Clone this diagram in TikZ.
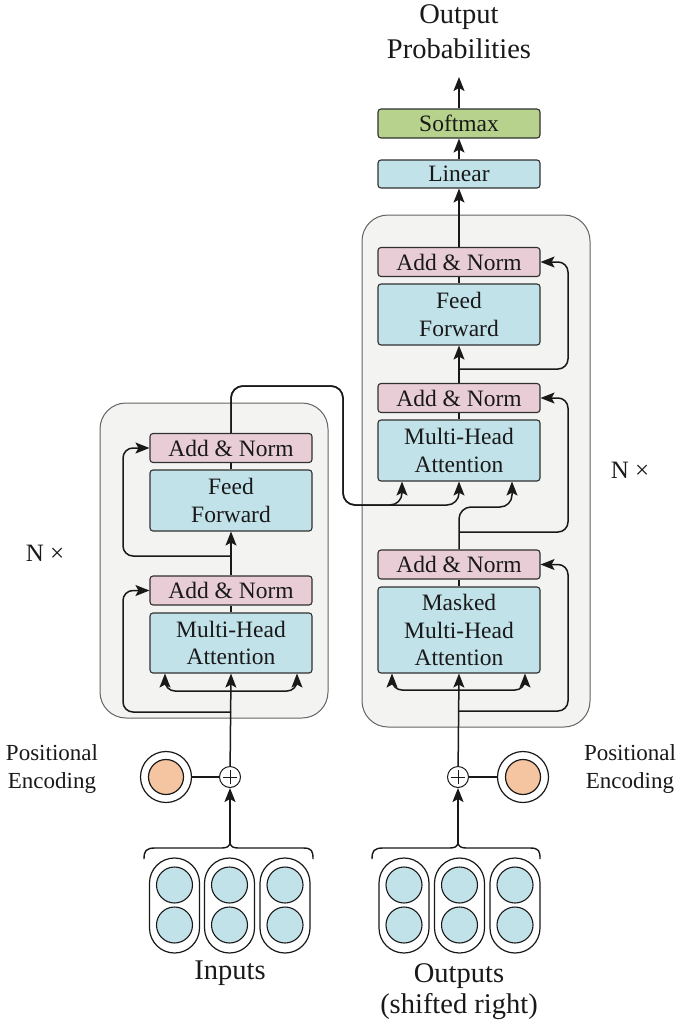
\documentclass[tikz,border=0pt]{standalone}
\usepackage{fontspec}
\setmainfont{Liberation Serif}
\usetikzlibrary{arrows.meta}
\definecolor{boxblue}{RGB}{194,226,234}
\definecolor{boxpink}{RGB}{232,205,215}
\definecolor{boxgreen}{RGB}{182,210,140}
\definecolor{peorange}{RGB}{245,196,161}
\definecolor{blockfill}{RGB}{243,243,242}
\definecolor{blockline}{RGB}{100,100,100}
\definecolor{lncol}{RGB}{25,25,25}
\begin{document}
\begin{tikzpicture}[x=1pt,y=-1pt,
  lyr/.style={draw=lncol!90, line width=1.1pt, rounded corners=3pt, minimum width=162pt, inner sep=0pt, align=center, font=\fontsize{23.5}{27.5}\selectfont, text=lncol},
  bluebox/.style={lyr, fill=boxblue},
  pinkbox/.style={lyr, fill=boxpink, minimum height=29pt},
  greenbox/.style={lyr, fill=boxgreen},
  blockbg/.style={draw=blockline, fill=blockfill, line width=1pt, rounded corners=26pt},
  conn/.style={draw=lncol, line width=1.5pt, rounded corners=10pt},
  arr/.style={conn, -{Stealth[length=14pt,width=11pt,inset=3pt]}},
  plusnode/.style={circle, draw=lncol, line width=1pt, fill=white, minimum size=21pt, inner sep=0pt,
    path picture={\draw[line width=0.8pt] ([xshift=-7pt]path picture bounding box.center) -- ([xshift=7pt]path picture bounding box.center);
                  \draw[line width=0.8pt] ([yshift=-7pt]path picture bounding box.center) -- ([yshift=7pt]path picture bounding box.center);}},
  peouter/.style={circle, draw=lncol, line width=1.2pt, fill=white, minimum size=51pt, inner sep=0pt},
  peinner/.style={circle, draw=lncol, line width=1.2pt, fill=peorange, minimum size=35pt, inner sep=0pt},
  pill/.style={draw=lncol, line width=1.2pt, fill=white, rounded corners=25pt, minimum width=50pt, minimum height=95pt, inner sep=0pt},
  emb/.style={circle, draw=lncol, line width=1.1pt, fill=boxblue, minimum size=36pt, inner sep=0pt},
  lbl/.style={align=center, text=lncol, inner sep=0pt},
]
\useasboundingbox (0,0) rectangle (679,1031);

% ---------------- block backgrounds
\node[blockbg, minimum width=228pt, minimum height=315pt] (encblock) at (214,560.5) {};
\node[blockbg, minimum width=228pt, minimum height=512pt] (decblock) at (476,471) {};

% ---------------- encoder layers
\node[pinkbox] (encAN2) at (231,448) {Add \& Norm};
\node[bluebox, minimum height=61pt] (encFF) at (231,500.5) {Feed\\Forward};
\node[pinkbox] (encAN1) at (231,590.5) {Add \& Norm};
\node[bluebox, minimum height=60pt] (encMHA) at (231,643) {Multi-Head\\Attention};

% ---------------- decoder layers
\node[pinkbox] (decAN3) at (459,262) {Add \& Norm};
\node[bluebox, minimum height=61pt] (decFF) at (459,314.5) {Feed\\Forward};
\node[pinkbox] (decAN2) at (459,398) {Add \& Norm};
\node[bluebox, minimum height=61pt] (decMHA) at (459,450.5) {Multi-Head\\Attention};
\node[pinkbox] (decAN1) at (459,564.5) {Add \& Norm};
\node[bluebox, minimum height=86pt] (decMMHA) at (459,630) {Masked\\Multi-Head\\Attention};

\node[bluebox, minimum height=28pt] (linear) at (459,174) {Linear};
\node[greenbox, minimum height=29pt] (softmax) at (459,123.5) {Softmax};
\node[lbl, font=\fontsize{28.5}{35}\selectfont] (outprob) at (459,32) {Output\\Probabilities};
\coordinate (outtip) at (459,77);

% ---------------- N x labels
\node[lbl, font=\fontsize{25}{28}\selectfont] (encN) at (45,553) {N ×};
\node[lbl, font=\fontsize{25}{28}\selectfont] (decN) at (630,470) {N ×};

% ---------------- positional encodings
\node[plusnode] (encplus) at (230,777) {};
\node[peouter] (encPEo) at (166,777) {};
\node[peinner] (encPEi) at (166,777) {};
\node[lbl, font=\fontsize{23}{28}\selectfont] (encPEt) at (52,769) {Positional\\Encoding};

\node[plusnode] (decplus) at (458,777) {};
\node[peouter] (decPEo) at (523,777) {};
\node[peinner] (decPEi) at (523,777) {};
\node[lbl, font=\fontsize{23}{28}\selectfont] (decPEt) at (630,769) {Positional\\Encoding};

% ---------------- embeddings
\foreach \i/\x in {1/174.5,2/229.5,3/285} {
  \node[pill] (ep\i) at (\x,905.5) {};
  \node[emb] (ea\i) at (\x,885) {};
  \node[emb] (eb\i) at (\x,925) {};
}
\foreach \i/\x in {1/404,2/459.5,3/515} {
  \node[pill] (dp\i) at (\x,905.5) {};
  \node[emb] (da\i) at (\x,885) {};
  \node[emb] (db\i) at (\x,925) {};
}
\node[lbl, font=\fontsize{28.5}{31}\selectfont] (inputs) at (230,973) {Inputs};
\node[lbl, font=\fontsize{28.5}{31}\selectfont] (outputs) at (459,992) {Outputs\\(shifted right)};

% braces
\coordinate (encbrace) at (230,843);
\coordinate (decbrace) at (458,843);
\draw[draw=lncol, line width=1.4pt] (144,859) .. controls (144,851) and (146,848) .. (155,848) -- (220,848) .. controls (227,848) and (229,847) .. (encbrace) .. controls (231,847) and (233,848) .. (240,848) -- (303,848) .. controls (312,848) and (313,851) .. (313,859);
\draw[draw=lncol, line width=1.4pt] (372,859) .. controls (372,851) and (374,848) .. (383,848) -- (448,848) .. controls (455,848) and (457,847) .. (decbrace) .. controls (459,847) and (461,848) .. (468,848) -- (530,848) .. controls (539,848) and (540,851) .. (540,859);

% ---------------- input arrows
\draw[arr] (encbrace) -- (encplus);
\draw[arr] (decbrace) -- (decplus);
\draw[conn] (encPEo) -- (encplus);
\draw[conn] (decPEo) -- (decplus);

% ---------------- encoder connections
\draw[arr] (encplus) -- (encMHA.south);
\coordinate (eFork) at (231,691);
\draw[arr] (eFork) -- ++(-66,0) -- ([xshift=-66pt]encMHA.south);
\draw[arr] (eFork) -- ++(66,0) -- ([xshift=66pt]encMHA.south);
\coordinate (eRes1) at (231,712);
\draw[arr] (eRes1) -- (123,712) -- (123,590.5) -- (encAN1.west);
\draw[conn] (encMHA.north) -- (encAN1.south);
\draw[arr] (encAN1.north) -- (encFF.south);
\coordinate (eRes2) at (231,556);
\draw[arr] (eRes2) -- (123,556) -- (123,448) -- (encAN2.west);
\draw[conn] (encFF.north) -- (encAN2.south);

% encoder output to decoder
\draw[arr, rounded corners=12pt] (encAN2.north) -- (231,386) -- (343,386) -- (343,505) -- (402,505) -- ([xshift=-57pt]decMHA.south);
\draw[arr, rounded corners=12pt] (encAN2.north) -- (231,386) -- (343,386) -- (343,505) -- (459,505) -- (decMHA.south);

% ---------------- decoder connections
\draw[arr] (decplus) -- (decMMHA.south);
\coordinate (dFork) at (459,690);
\draw[arr] (dFork) -- ++(-67,0) -- ([xshift=-67pt]decMMHA.south);
\draw[arr] (dFork) -- ++(66,0) -- ([xshift=66pt]decMMHA.south);
\coordinate (dRes1) at (459,711);
\draw[arr] (dRes1) -- (568,711) -- (568,564.5) -- (decAN1.east);
\draw[conn] (decMMHA.north) -- (decAN1.south);
\draw[arr, rounded corners=12pt] (decAN1.north) -- (459,507) -- (512,507) -- ([xshift=53pt]decMHA.south);
\coordinate (dRes2) at (459,532);
\draw[arr] (dRes2) -- (568,532) -- (568,398) -- (decAN2.east);
\draw[conn] (decMHA.north) -- (decAN2.south);
\draw[arr] (decAN2.north) -- (decFF.south);
\coordinate (dRes3) at (459,369);
\draw[arr] (dRes3) -- (568,369) -- (568,262) -- (decAN3.east);
\draw[conn] (decFF.north) -- (decAN3.south);

% ---------------- output head
\draw[arr] (decAN3.north) -- (linear.south);
\draw[arr] (linear.north) -- (softmax.south);
\draw[arr] (softmax.north) -- (outtip);
\end{tikzpicture}
\end{document}
